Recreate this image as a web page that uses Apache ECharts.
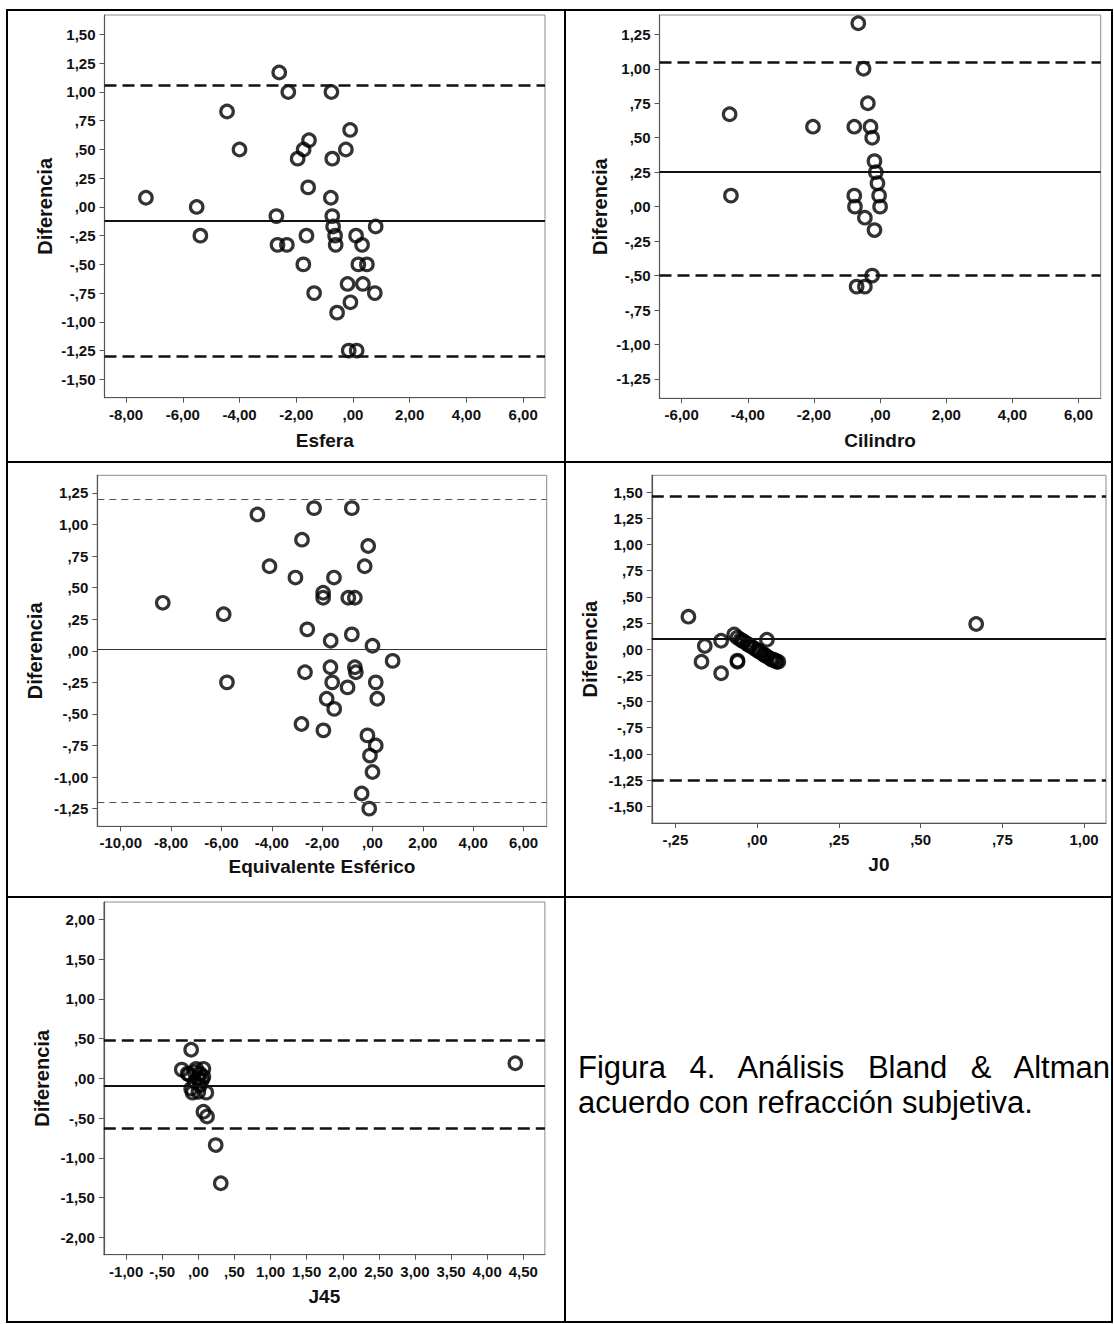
<!DOCTYPE html>
<html>
<head>
<meta charset="utf-8">
<script src="https://cdn.jsdelivr.net/npm/echarts@6/dist/echarts.min.js"></script>
<style>
  html, body { margin: 0; padding: 0; background: #fff; }
  #chart { position: absolute; left: 0; top: 0; width: 1114px; height: 1324px; }
  .caption {
    position: absolute; left: 578px; top: 1050px; width: 532px;
    font-family: 'Liberation Sans', Arial, sans-serif; font-size: 31px; line-height: 35px; color: #000;
  }
  .caption .l1 { text-align: justify; text-align-last: justify; }
</style>
</head>
<body>
<div id="chart"></div>
<div class="caption">
  <div class="l1">Figura 4. Análisis Bland &amp; Altman</div>
  <div>acuerdo con refracción subjetiva.</div>
</div>
<script>
// Esfera
const esferaX = [-2.60, -2.28, -0.76, -4.44, -0.10, -4.00, -1.55, -1.74, -1.95, -0.25, -0.73, -1.58, -7.30, -0.78, -5.51, -2.70, -0.73, -0.70, 0.80, -5.38, -1.64, -0.63, 0.11, -2.66, -2.33, -0.61, 0.32, -1.75, 0.19, 0.49, -0.19, 0.35, -1.37, 0.77, -0.09, -0.56, -0.15, 0.13]
const esferaDiff = [1.17, 1.00, 1.00, 0.83, 0.67, 0.50, 0.58, 0.50, 0.42, 0.50, 0.42, 0.17, 0.08, 0.08, 0.00, -0.08, -0.08, -0.17, -0.17, -0.25, -0.25, -0.25, -0.25, -0.33, -0.33, -0.33, -0.33, -0.50, -0.50, -0.50, -0.67, -0.67, -0.75, -0.75, -0.83, -0.92, -1.25, -1.25]
const esferaLines = [-0.12, 1.06, -1.30] // media, límite superior, límite inferior
const esferaXTicks = [-8, -6, -4, -2, 0, 2, 4, 6]
const esferaYTicks = [-1.5, -1.25, -1, -0.75, -0.5, -0.25, 0, 0.25, 0.5, 0.75, 1, 1.25, 1.5]

// Cilindro
const cilindroX = [-0.66, -0.50, -0.37, -4.55, -2.03, -0.78, -0.29, -0.24, -0.17, -0.13, -0.08, -4.51, -0.78, -0.03, -0.76, 0.00, -0.46, -0.17, -0.24, -0.71, -0.46]
const cilindroDiff = [1.33, 1.00, 0.75, 0.67, 0.58, 0.58, 0.58, 0.50, 0.33, 0.25, 0.17, 0.08, 0.08, 0.08, 0.00, 0.00, -0.08, -0.17, -0.50, -0.58, -0.58]
const cilindroLines = [0.25, 1.05, -0.50]
const cilindroXTicks = [-6, -4, -2, 0, 2, 4, 6]
const cilindroYTicks = [-1.25, -1, -0.75, -0.5, -0.25, 0, 0.25, 0.5, 0.75, 1, 1.25]

// Equivalente esférico
const eqX = [-2.32, -0.82, -4.57, -2.80, -0.17, -4.09, -0.31, -3.06, -1.53, -1.96, -1.96, -0.96, -0.70, -8.33, -5.91, -2.59, -0.82, -1.66, 0.00, 0.80, -1.67, -0.70, -0.66, -2.68, -5.78, -1.60, 0.13, -0.99, -1.82, 0.19, -1.52, -2.82, -1.95, -0.20, 0.13, -0.10, 0.00, -0.43, -0.13]
const eqDiff = [1.13, 1.13, 1.08, 0.88, 0.83, 0.67, 0.67, 0.58, 0.58, 0.46, 0.42, 0.42, 0.42, 0.38, 0.29, 0.17, 0.13, 0.08, 0.04, -0.08, -0.13, -0.13, -0.17, -0.17, -0.25, -0.25, -0.25, -0.29, -0.38, -0.38, -0.46, -0.58, -0.63, -0.67, -0.75, -0.83, -0.96, -1.13, -1.25]
const eqLines = [0.01, 1.20, -1.20]
const eqXTicks = [-10, -8, -6, -4, -2, 0, 2, 4, 6]
const eqYTicks = [-1.25, -1, -0.75, -0.5, -0.25, 0, 0.25, 0.5, 0.75, 1, 1.25]

// J0
const j0X = [-0.21, 0.67, -0.16, -0.17, -0.11, -0.11, -0.07, -0.06, -0.06, -0.06, 0.03, -0.05, -0.045, -0.04, -0.03, -0.025, -0.02, -0.01, 0.00, 0.005, 0.01, 0.02, 0.025, 0.03, 0.04, 0.045, 0.05, 0.055, 0.06, 0.065]
const j0Diff = [0.31, 0.24, 0.03, -0.12, 0.08, -0.23, 0.14, 0.11, -0.11, -0.12, 0.09, 0.09, 0.08, 0.07, 0.05, 0.04, 0.03, 0.01, -0.01, -0.02, -0.03, -0.05, -0.06, -0.07, -0.09, -0.10, -0.10, -0.11, -0.12, -0.12]
const j0Lines = [0.10, 1.46, -1.25]
const j0XTicks = [-0.25, 0, 0.25, 0.5, 0.75, 1]
const j0YTicks = [-1.5, -1.25, -1, -0.75, -0.5, -0.25, 0, 0.25, 0.5, 0.75, 1, 1.25, 1.5]

// J45
const j45X = [4.39, -0.10, -0.23, 0.07, -0.13, -0.05, 0.02, 0.00, 0.05, -0.05, -0.08, 0.00, 0.11, 0.07, 0.12, 0.24, 0.31, -0.03, -0.15, 0.07, -0.10, 0.02]
const j45Diff = [0.19, 0.36, 0.11, 0.12, 0.05, 0.08, 0.06, 0.00, -0.02, -0.04, -0.18, -0.17, -0.18, -0.42, -0.48, -0.84, -1.32, 0.12, 0.06, 0.02, -0.13, -0.09]
const j45Lines = [-0.09, 0.48, -0.63]
const j45XTicks = [-1, -0.5, 0, 0.5, 1, 1.5, 2, 2.5, 3, 3.5, 4, 4.5]
const j45YTicks = [-2, -1.5, -1, -0.5, 0, 0.5, 1, 1.5, 2]

const FONT = "'Liberation Sans', Arial, sans-serif"

// formato SPSS: 0.25 -> ",25", -1 -> "-1,00"
const fmt = (v) => {
  let s = Math.abs(v).toFixed(2).replace('.', ',')
  if (s.startsWith('0')) s = s.slice(1)
  return (v < 0 ? '-' : '') + s
}

const panels = [
  { title: 'Esfera', x: esferaX, y: esferaDiff, lines: esferaLines, xTicks: esferaXTicks, yTicks: esferaYTicks,
    xRange: [-8.76, 6.77], yRange: [-1.66, 1.67], box: [104.5, 15, 440.5, 382.7], gapX: 33, gapY: 50, thin: false },
  { title: 'Cilindro', x: cilindroX, y: cilindroDiff, lines: cilindroLines, xTicks: cilindroXTicks, yTicks: cilindroYTicks,
    xRange: [-6.67, 6.67], yRange: [-1.39, 1.39], box: [659.5, 15, 441.2, 383.3], gapX: 33, gapY: 50, thin: false },
  { title: 'Equivalente Esférico', x: eqX, y: eqDiff, lines: eqLines, xTicks: eqXTicks, yTicks: eqYTicks,
    xRange: [-10.93, 6.92], yRange: [-1.39, 1.39], box: [97.3, 475.3, 449.4, 351], gapX: 31, gapY: 52, thin: true },
  { title: 'J0', x: j0X, y: j0Diff, lines: j0Lines, xTicks: j0XTicks, yTicks: j0YTicks,
    xRange: [-0.322, 1.067], yRange: [-1.66, 1.66], box: [651.8, 475.3, 454.2, 347.7], gapX: 32, gapY: 52, thin: false },
  { title: 'J45', x: j45X, y: j45Diff, lines: j45Lines, xTicks: j45XTicks, yTicks: j45YTicks,
    xRange: [-1.31, 4.80], yRange: [-2.22, 2.22], box: [103.8, 902, 441.1, 352.7], gapX: 32, gapY: 52, thin: false },
]

const axisCommon = (ticks) => ({
  type: 'value',
  nameLocation: 'middle',
  axisLine: { show: true, onZero: false, lineStyle: { color: '#555', width: 1.2 } },
  axisTick: { show: true, length: 5, customValues: ticks, lineStyle: { color: '#555' } },
  axisLabel: { customValues: ticks, formatter: fmt, fontFamily: FONT, fontWeight: 'bold', fontSize: 15, color: '#111', margin: 9 },
  splitLine: { show: false },
})

const refLines = (p) => {
  const [mean, upper, lower] = p.lines
  const dash = p.thin
    ? { type: [7, 5], width: 1, color: '#555' }
    : { type: [12, 6], width: 2.5, color: '#111' }
  return [
    { yAxis: mean, lineStyle: { type: 'solid', width: p.thin ? 1 : 2, color: p.thin ? '#333' : '#111' } },
    { yAxis: upper, lineStyle: dash },
    { yAxis: lower, lineStyle: dash },
  ]
}

const chart = echarts.init(document.getElementById('chart'), null, { renderer: 'svg' })

chart.setOption({
  animation: false,
  backgroundColor: '#fff',
  grid: panels.map((p) => ({
    left: p.box[0], top: p.box[1], width: p.box[2], height: p.box[3],
    show: true, borderColor: '#8c8c8c', borderWidth: 1,
  })),
  xAxis: panels.map((p, i) => ({
    ...axisCommon(p.xTicks),
    gridIndex: i,
    min: p.xRange[0],
    max: p.xRange[1],
    name: p.title,
    nameGap: p.gapX,
    nameTextStyle: { fontFamily: FONT, fontWeight: 'bold', fontSize: 19, color: '#111' },
  })),
  yAxis: panels.map((p, i) => ({
    ...axisCommon(p.yTicks),
    gridIndex: i,
    min: p.yRange[0],
    max: p.yRange[1],
    name: 'Diferencia',
    nameGap: p.gapY,
    nameTextStyle: { fontFamily: FONT, fontWeight: 'bold', fontSize: 20, color: '#111' },
  })),
  series: panels.map((p, i) => ({
    type: 'scatter',
    xAxisIndex: i,
    yAxisIndex: i,
    data: p.x.map((v, k) => [v, p.y[k]]),
    symbol: 'circle',
    symbolSize: 12.5,
    itemStyle: { color: 'transparent', borderColor: '#000', borderWidth: 3.2 },
    markLine: {
      silent: true,
      symbol: ['none', 'none'],
      label: { show: false },
      data: refLines(p),
    },
  })),
  // bordes de la tabla
  graphic: [
    { type: 'rect', shape: { x: 7, y: 10, width: 1105, height: 1312 }, style: { fill: 'none', stroke: '#000', lineWidth: 2 } },
    { type: 'line', shape: { x1: 565, y1: 10, x2: 565, y2: 1322 }, style: { stroke: '#000', lineWidth: 2 } },
    { type: 'line', shape: { x1: 7, y1: 462, x2: 1112, y2: 462 }, style: { stroke: '#000', lineWidth: 2 } },
    { type: 'line', shape: { x1: 7, y1: 897, x2: 1112, y2: 897 }, style: { stroke: '#000', lineWidth: 2 } },
  ],
})
</script>
</body>
</html>
